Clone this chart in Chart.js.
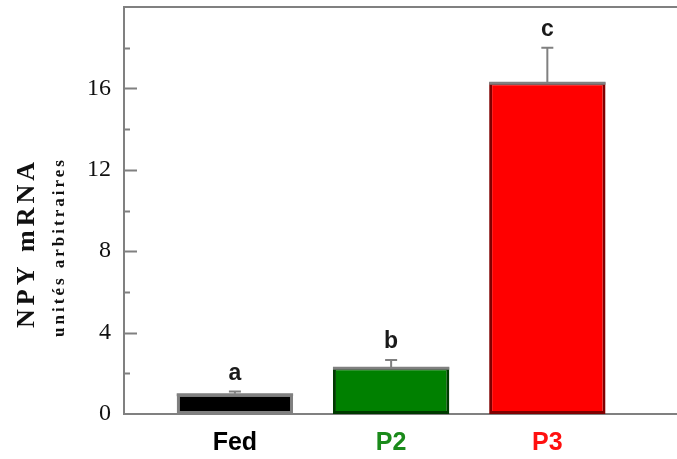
<!DOCTYPE html>
<html>
<head>
<meta charset="utf-8">
<script src="https://cdn.jsdelivr.net/npm/chart.js@4"></script>
<style>
  html, body { margin: 0; padding: 0; background: #fff; }
  #wrap { width: 677px; height: 459px; }
</style>
</head>
<body>
<div id="wrap"><canvas id="npyChart"></canvas></div>
<script>
// données
const groups = ['Fed', 'P2', 'P3'];
const groupPos = [1, 2, 3];
const npyMean = [1.0, 2.3, 16.3];
const npyErr = [0.1, 0.35, 1.7];
const sigLetters = ['a', 'b', 'c'];
const yTicks = [0, 4, 8, 12, 16];
const yMinorTicks = [2, 6, 10, 14, 18];

const barFill = ['#000000', '#008000', '#ff0000'];
const barEdge = ['#808080', '#003a00', '#800000'];
const labelColors = ['#000000', '#1a8a1a', '#ff1010'];
const axisGray = '#808080';

// barres d'erreur, lettres, ticks internes, cadre du haut et titres
const extras = {
    id: 'extras',
    afterDatasetsDraw(chart) {
        const ctx = chart.ctx;
        const ys = chart.scales.y;
        const area = chart.chartArea;
        const meta = chart.getDatasetMeta(0);
        ctx.save();

        meta.data.forEach((bar, i) => {
            const half = bar.width / 2;
            // liseré gris au sommet de la barre
            ctx.strokeStyle = axisGray;
            ctx.lineWidth = 3;
            ctx.beginPath();
            ctx.moveTo(bar.x - half, bar.y + 1);
            ctx.lineTo(bar.x + half, bar.y + 1);
            ctx.stroke();

            // barre d'erreur vers le haut
            const yTop = ys.getPixelForValue(npyMean[i] + npyErr[i]);
            ctx.lineWidth = 2;
            ctx.beginPath();
            ctx.moveTo(bar.x, bar.y);
            ctx.lineTo(bar.x, yTop);
            ctx.moveTo(bar.x - 6, yTop);
            ctx.lineTo(bar.x + 6, yTop);
            ctx.stroke();

            // lettre de significativité
            ctx.fillStyle = '#1a1a1a';
            ctx.font = 'bold 23px "Liberation Sans", Arial, sans-serif';
            ctx.textAlign = 'center';
            ctx.textBaseline = 'alphabetic';
            ctx.fillText(sigLetters[i], bar.x, yTop - 12);
        });

        // cadre du haut
        ctx.strokeStyle = axisGray;
        ctx.lineWidth = 2;
        ctx.beginPath();
        ctx.moveTo(area.left - 1, area.top);
        ctx.lineTo(chart.width, area.top);
        ctx.stroke();

        // ticks vers l'intérieur
        ctx.beginPath();
        yTicks.forEach(v => {
            if (v === 0) return;
            const py = Math.round(ys.getPixelForValue(v)) + 0.5;
            ctx.moveTo(area.left, py);
            ctx.lineTo(area.left + 13, py);
        });
        yMinorTicks.forEach(v => {
            const py = Math.round(ys.getPixelForValue(v)) + 0.5;
            ctx.moveTo(area.left, py);
            ctx.lineTo(area.left + 6, py);
        });
        ctx.stroke();

        // titres de l'axe Y
        ctx.fillStyle = '#111';
        ctx.textAlign = 'center';
        ctx.textBaseline = 'middle';
        ctx.translate(27, 243);
        ctx.rotate(-Math.PI / 2);
        ctx.font = 'bold 26px "Liberation Serif", "Times New Roman", serif';
        ctx.letterSpacing = '4px';
        ctx.fillText('NPY mRNA', 0, 0);
        ctx.font = 'bold 17px "Liberation Serif", "Times New Roman", serif';
        ctx.letterSpacing = '3px';
        ctx.fillText('unités arbitraires', -4, 33);
        ctx.restore();
    }
};

new Chart(document.getElementById('npyChart'), {
    type: 'bar',
    data: {
        datasets: [{
            data: groupPos.map((x, i) => ({ x: x, y: npyMean[i] })),
            backgroundColor: barFill,
            borderColor: barEdge,
            borderWidth: 3,
            borderSkipped: false,
            barPercentage: 0.745,
            categoryPercentage: 1
        }]
    },
    options: {
        responsive: true,
        maintainAspectRatio: false,
        animation: false,
        layout: { padding: { top: 7, right: 0, left: 0, bottom: 0 } },
        plugins: {
            legend: { display: false },
            tooltip: { enabled: false }
        },
        scales: {
            x: {
                type: 'linear',
                offset: false,
                min: 0.29,
                max: 3.83,
                afterBuildTicks: (axis) => { axis.ticks = groupPos.map(v => ({ value: v })); },
                afterFit: (axis) => {
                    axis.height = 45;
                    axis.paddingLeft = 0;
                    axis.paddingRight = 0;
                },
                grid: { display: false, drawTicks: false },
                border: { display: true, color: axisGray, width: 2 },
                ticks: {
                    padding: 14,
                    color: (c) => labelColors[c.index],
                    font: { family: '"Liberation Sans", Arial, sans-serif', size: 25, weight: 'bold' },
                    callback: (v) => groups[v - 1]
                }
            },
            y: {
                min: 0,
                max: 20,
                afterBuildTicks: (axis) => { axis.ticks = yTicks.map(v => ({ value: v })); },
                afterFit: (axis) => {
                    axis.width = 124;
                    axis.paddingTop = 0;
                    axis.paddingBottom = 0;
                },
                grid: { display: false, drawTicks: false },
                border: { display: true, color: axisGray, width: 2 },
                ticks: {
                    padding: 13,
                    color: '#111',
                    font: { family: '"Liberation Serif", "Times New Roman", serif', size: 24 }
                }
            }
        }
    },
    plugins: [extras]
});
</script>
</body>
</html>
